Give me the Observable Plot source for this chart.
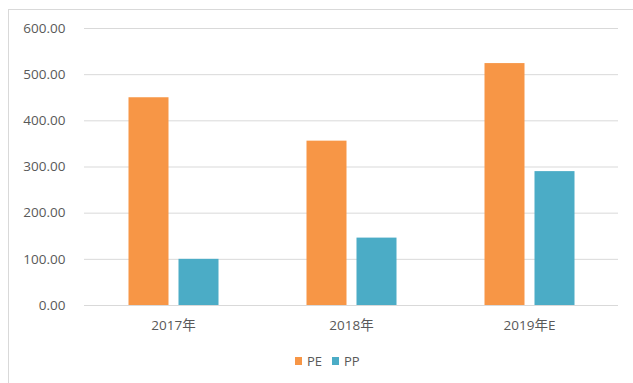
<!DOCTYPE html>
<html>
<head>
<meta charset="utf-8">
<script src="https://cdn.jsdelivr.net/npm/d3@7"></script>
<script src="https://cdn.jsdelivr.net/npm/@observablehq/plot@0.6"></script>
<style>
  html, body { margin: 0; padding: 0; background: #fff; }
  #wrap { position: relative; width: 633px; height: 383px; overflow: hidden; font-family: "Open Sans", "Noto Sans CJK SC", sans-serif; }
  #frame { position: absolute; left: 8px; top: 9px; width: 700px; height: 400px; border-left: 1px solid #d9d9d9; border-top: 1px solid #d9d9d9; }
  #chart { position: absolute; left: 0; top: 0; }
  #legend { position: absolute; left: 295px; top: 352px; height: 18px; display: flex; align-items: center; font-size: 13px; color: #595959; }
  .sw { display: inline-block; width: 7px; height: 8px; margin-right: 5px; }
  .item { display: flex; align-items: center; margin-right: 10px; }
</style>
</head>
<body>
<div id="wrap">
  <div id="frame"></div>
  <div id="chart"></div>
  <div id="legend"></div>
</div>
<script>
const years = ["2017年", "2018年", "2019年E"];
const seriesNames = ["PE", "PP"];
const peValues = [450, 356, 524];
const ppValues = [100, 146, 290];
const yTicks = [0, 100, 200, 300, 400, 500, 600];
const colors = ["#f79646", "#4bacc6"];

const data = [];
years.forEach((y, i) => {
  data.push({year: y, series: "PE", value: peValues[i]});
  data.push({year: y, series: "PP", value: ppValues[i]});
});

const chart = Plot.plot({
  width: 633,
  height: 345,
  marginLeft: 82.5,
  marginRight: 14,
  marginTop: 28,
  marginBottom: 40,
  style: {fontFamily: '"Open Sans", "Noto Sans CJK SC", sans-serif', fontSize: "13.5px", color: "#595959", background: "transparent"},
  fx: {domain: years, padding: 0, label: null, axis: "bottom", tickSize: 0, tickPadding: 15},
  x: {domain: seriesNames, paddingInner: 0.21, paddingOuter: 0.873, axis: null},
  y: {domain: [0, 600], ticks: yTicks, tickFormat: d3.format(".2f"), tickSize: 0, tickPadding: 19, label: null},
  color: {domain: seriesNames, range: colors},
  marks: [
    Plot.gridY(yTicks, {stroke: "#d9d9d9", strokeOpacity: 1, strokeWidth: 1}),
    Plot.barY(data, {fx: "year", x: "series", y: "value", fill: "series"})
  ]
});
document.getElementById("chart").appendChild(chart);

const legend = document.getElementById("legend");
seriesNames.forEach((s, i) => {
  const item = document.createElement("div");
  item.className = "item";
  const sw = document.createElement("span");
  sw.className = "sw";
  sw.style.background = colors[i];
  item.appendChild(sw);
  item.appendChild(document.createTextNode(s));
  legend.appendChild(item);
});
</script>
</body>
</html>
